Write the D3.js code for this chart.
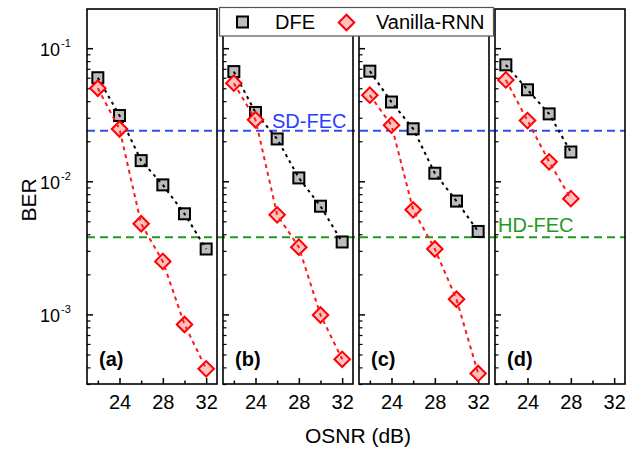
<!DOCTYPE html>
<html>
<head>
<meta charset="utf-8">
<script src="https://cdn.jsdelivr.net/npm/d3@7"></script>
<style>
  html, body { margin: 0; padding: 0; background: #fff; }
  svg { display: block; font-family: "Liberation Sans", Arial, sans-serif; }
</style>
</head>
<body>
<svg id="chart" width="641" height="452"></svg>
<script>
// BER vs OSNR for four link configurations, DFE vs Vanilla-RNN equalisers
const panelNames = ["(a)", "(b)", "(c)", "(d)"];
const osnrFull = [22, 24, 26, 28, 30, 32];
const osnrShort = [22, 24, 26, 28];

const dfeA = [0.060, 0.0312, 0.0143, 0.0094, 0.0057, 0.0031];
const rnnA = [0.050, 0.0247, 0.0048, 0.0025, 0.00084, 0.00039];
const dfeB = [0.0667, 0.0329, 0.0208, 0.0106, 0.0065, 0.0035];
const rnnB = [0.0546, 0.029, 0.0056, 0.0032, 0.00099, 0.00046];
const dfeC = [0.0672, 0.0394, 0.0248, 0.0115, 0.0071, 0.0042];
const rnnC = [0.0444, 0.0264, 0.0061, 0.0031, 0.0013, 0.00036];
const dfeD = [0.075, 0.0487, 0.0321, 0.0166];
const rnnD = [0.0578, 0.0286, 0.014, 0.0074];

const sdFec = 0.024;
const hdFec = 0.0038;

const xMajorTicks = [24, 28, 32];
const xMinorTicks = [22, 26, 30];
const yDecades = [1e-1, 1e-2, 1e-3];
const yDecadeLabels = ["-1", "-2", "-3"];

const panels = [
  { name: panelNames[0], x: osnrFull, dfe: dfeA, rnn: rnnA },
  { name: panelNames[1], x: osnrFull, dfe: dfeB, rnn: rnnB },
  { name: panelNames[2], x: osnrFull, dfe: dfeC, rnn: rnnC },
  { name: panelNames[3], x: osnrShort, dfe: dfeD, rnn: rnnD }
];

// layout
const plotTop = 9, plotBottom = 384;
const left0 = 87, pitch = 136, pw = 130;

const svg = d3.select("#chart");
const y = d3.scaleLog().domain([3e-4, 0.197]).range([plotBottom, plotTop]);

// minor log ticks (2..9 within each decade)
const yMinor = [];
[1e-4, 1e-3, 1e-2, 1e-1].forEach(d => {
  for (let k = 2; k <= 9; k++) {
    const v = d * k;
    if (v >= 3e-4 && v <= 0.197) yMinor.push(v);
  }
});

const fontFamily = '"Liberation Sans", Arial, sans-serif';

// threshold lines (under the data)
const fecLayer = svg.append("g");
const xStart = left0, xEnd = left0 + 3 * pitch + pw;
fecLayer.append("line")
  .attr("x1", xStart).attr("x2", xEnd)
  .attr("y1", y(sdFec)).attr("y2", y(sdFec))
  .attr("stroke", "#2f4ff0").attr("stroke-width", 2)
  .attr("stroke-dasharray", "8,5");
fecLayer.append("line")
  .attr("x1", xStart).attr("x2", xEnd)
  .attr("y1", y(hdFec)).attr("y2", y(hdFec))
  .attr("stroke", "#1f9a1f").attr("stroke-width", 2)
  .attr("stroke-dasharray", "8,5");

const diamond = d3.symbol().type(d3.symbolSquare).size(120);

panels.forEach((p, i) => {
  const x0 = left0 + i * pitch;
  const x = d3.scaleLinear().domain([21, 33]).range([x0, x0 + pw]);
  const g = svg.append("g");

  // x axis: major ticks with labels, minor ticks without
  g.append("g")
    .attr("transform", `translate(0,${plotBottom})`)
    .call(d3.axisBottom(x).tickValues(xMajorTicks).tickSize(-6).tickPadding(11).tickFormat(d3.format("d")))
    .call(a => a.select(".domain").remove())
    .call(a => a.selectAll("line").attr("stroke", "#000").attr("stroke-width", 1.5))
    .call(a => a.selectAll("text").attr("font-size", 20).attr("font-family", fontFamily).attr("fill", "#000"));
  g.append("g")
    .attr("transform", `translate(0,${plotBottom})`)
    .call(d3.axisBottom(x).tickValues(xMinorTicks).tickSize(-3.5).tickFormat(""))
    .call(a => a.select(".domain").remove())
    .call(a => a.selectAll("line").attr("stroke", "#000").attr("stroke-width", 1.5));

  // y axis ticks pointing inward
  g.append("g")
    .attr("transform", `translate(${x0},0)`)
    .call(d3.axisLeft(y).tickValues(yDecades).tickSize(-6).tickFormat(""))
    .call(a => a.select(".domain").remove())
    .call(a => a.selectAll("line").attr("stroke", "#000").attr("stroke-width", 1.5));
  g.append("g")
    .attr("transform", `translate(${x0},0)`)
    .call(d3.axisLeft(y).tickValues(yMinor).tickSize(-3.5).tickFormat(""))
    .call(a => a.select(".domain").remove())
    .call(a => a.selectAll("line").attr("stroke", "#000").attr("stroke-width", 1.2));

  if (i === 0) {
    yDecades.forEach((d, k) => {
      g.append("text")
        .attr("font-family", fontFamily)
        .attr("x", x0 - 27).attr("y", y(d) + 8)
        .attr("text-anchor", "end")
        .attr("font-size", 18)
        .attr("fill", "#000")
        .text("10");
      g.append("text")
        .attr("font-family", fontFamily)
        .attr("x", x0 - 26).attr("y", y(d) - 1)
        .attr("font-size", 11)
        .attr("fill", "#000")
        .text(yDecadeLabels[k]);
    });
  }

  const lineGen = d3.line().x(d => x(d[0])).y(d => y(d[1]));
  const dfePts = p.x.map((v, k) => [v, p.dfe[k]]);
  const rnnPts = p.x.map((v, k) => [v, p.rnn[k]]);

  // DFE series
  g.selectAll(".dfe").data(dfePts).enter().append("rect")
    .attr("x", d => x(d[0]) - 5.5).attr("y", d => y(d[1]) - 5.5)
    .attr("width", 11).attr("height", 11)
    .attr("fill", "#bcbcbc").attr("stroke", "#000").attr("stroke-width", 2);
  g.append("path").datum(dfePts)
    .attr("d", lineGen).attr("fill", "none")
    .attr("stroke", "#000").attr("stroke-width", 2)
    .attr("stroke-dasharray", "3,4");

  // Vanilla-RNN series
  g.selectAll(".rnn").data(rnnPts).enter().append("path")
    .attr("d", diamond)
    .attr("transform", d => `translate(${x(d[0])},${y(d[1])}) rotate(45)`)
    .attr("fill", "#ffc2c2").attr("stroke", "#ff0000").attr("stroke-width", 2);
  g.append("path").datum(rnnPts)
    .attr("d", lineGen).attr("fill", "none")
    .attr("stroke", "#ff1a1a").attr("stroke-width", 2)
    .attr("stroke-dasharray", "4,4");

  // frame
  g.append("rect")
    .attr("x", x0).attr("y", plotTop)
    .attr("width", pw).attr("height", plotBottom - plotTop)
    .attr("fill", "none").attr("stroke", "#000").attr("stroke-width", 1.6);

  // panel tag
  g.append("text")
    .attr("x", x0 + 12).attr("y", 366)
    .attr("font-family", fontFamily).attr("font-weight", "bold")
    .attr("font-size", 20).attr("fill", "#000")
    .text(p.name);
});

// threshold labels
svg.append("text")
  .attr("x", 272).attr("y", 127.5)
  .attr("font-family", fontFamily).attr("font-size", 20)
  .attr("fill", "#2a3cff").text("SD-FEC");
svg.append("text")
  .attr("x", 498).attr("y", 232)
  .attr("font-family", fontFamily).attr("font-size", 20)
  .attr("fill", "#1f9a1f").text("HD-FEC");

// axis titles
svg.append("text")
  .attr("transform", "translate(36,200) rotate(-90)")
  .attr("text-anchor", "middle")
  .attr("font-family", fontFamily).attr("font-size", 21)
  .attr("fill", "#000").text("BER");
svg.append("text")
  .attr("x", 358).attr("y", 443)
  .attr("text-anchor", "middle")
  .attr("font-family", fontFamily).attr("font-size", 21)
  .attr("fill", "#000").text("OSNR (dB)");

// legend
const lg = svg.append("g");
lg.append("rect")
  .attr("x", 219.5).attr("y", 7.5).attr("width", 274).attr("height", 28.5)
  .attr("fill", "#fff").attr("stroke", "#555").attr("stroke-width", 1.2);
lg.append("rect")
  .attr("x", 242.5 - 5.5).attr("y", 22 - 5.5).attr("width", 11).attr("height", 11)
  .attr("fill", "#bcbcbc").attr("stroke", "#000").attr("stroke-width", 2);
lg.append("text")
  .attr("x", 275).attr("y", 29)
  .attr("font-family", fontFamily).attr("font-size", 20)
  .attr("fill", "#000").text("DFE");
lg.append("path")
  .attr("d", diamond)
  .attr("transform", "translate(346.5,22.5) rotate(45)")
  .attr("fill", "#ffc2c2").attr("stroke", "#ff0000").attr("stroke-width", 2);
lg.append("text")
  .attr("x", 376).attr("y", 29)
  .attr("font-family", fontFamily).attr("font-size", 20)
  .attr("fill", "#000").text("Vanilla-RNN");
</script>
</body>
</html>
